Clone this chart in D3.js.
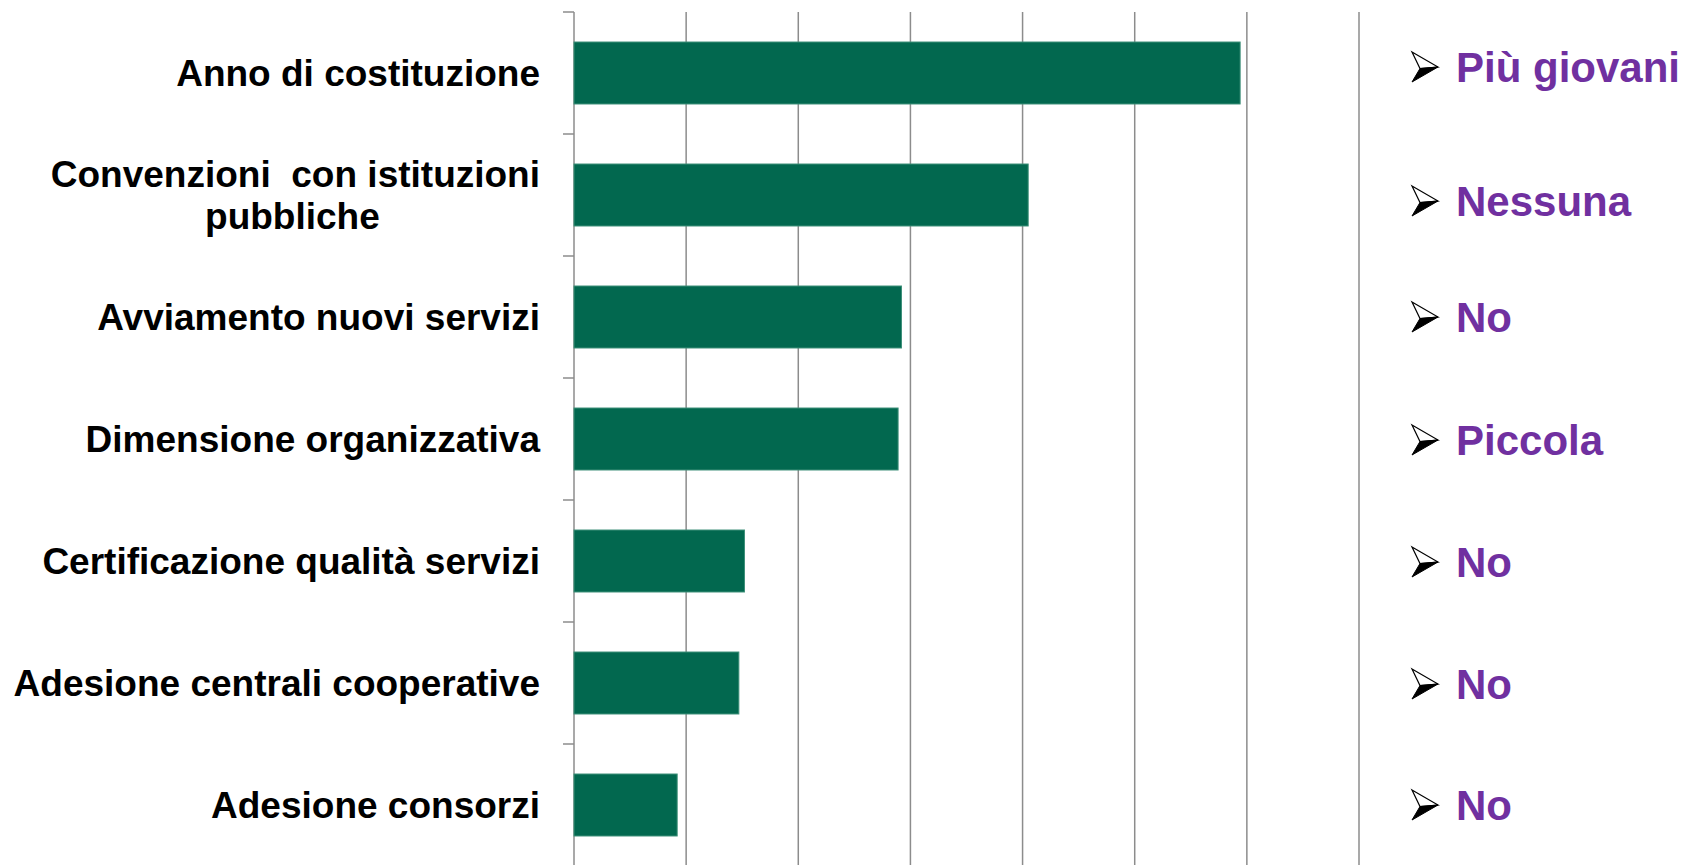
<!DOCTYPE html>
<html lang="it">
<head>
  <meta charset="UTF-8">
  <title>Fattori</title>
  <style>
    body { margin: 0; background: #fff; }
    .label { font-family: "Liberation Sans", Arial, sans-serif; font-weight: bold; font-size: 37px; fill: #000; white-space: pre; }
    .note { font-family: "Liberation Sans", Arial, sans-serif; font-weight: bold; font-size: 42px; fill: #7030A0; }
    .grid line { stroke: #8c8c8c; stroke-width: 1.5; }
    .bar { fill: #02684f; stroke: #3d8f78; stroke-width: 1; }
  </style>
</head>
<body>
<svg class="chart"></svg>

<script src="https://d3js.org/d3.v7.min.js"></script>
<script>
  // Data
  const categories = [
    'Anno di costituzione',
    'Convenzioni  con istituzioni\npubbliche',
    'Avviamento nuovi servizi',
    'Dimensione organizzativa',
    'Certificazione qualità servizi',
    'Adesione centrali cooperative',
    'Adesione consorzi'
  ];
  const values = [5.94, 4.05, 2.92, 2.89, 1.52, 1.47, 0.92];
  const notes = ['Più giovani', 'Nessuna', 'No', 'Piccola', 'No', 'No', 'No'];
  const xTicks = [0, 1, 2, 3, 4, 5, 6, 7];

  const width = 1683;
  const height = 865;

  const svg = d3.select('.chart')
    .attr('width', width)
    .attr('height', height);

  const x = d3.scaleLinear()
    .domain([0, 7])
    .range([574, 1359]);

  const y = d3.scaleBand()
    .domain(categories)
    .range([12, 866])
    .paddingInner(0.492)
    .paddingOuter(0.246);

  // vertical gridlines
  svg.append('g')
    .attr('class', 'grid')
    .selectAll('line')
    .data(xTicks.slice(1))
    .enter().append('line')
    .attr('x1', d => x(d))
    .attr('x2', d => x(d))
    .attr('y1', 12)
    .attr('y2', height);

  // category axis (left)
  const bounds = d3.range(categories.length).map(i => 12 + i * y.step());
  const axis = svg.append('g').attr('class', 'grid');
  axis.append('line')
    .attr('x1', x(0)).attr('x2', x(0))
    .attr('y1', 12).attr('y2', height);
  axis.selectAll('.tick')
    .data(bounds)
    .enter().append('line')
    .attr('class', 'tick')
    .attr('x1', x(0) - 11).attr('x2', x(0))
    .attr('y1', d => d).attr('y2', d => d);

  // bars
  svg.selectAll('.bar')
    .data(values)
    .enter().append('rect')
    .attr('class', 'bar')
    .attr('x', x(0))
    .attr('y', (d, i) => y(categories[i]))
    .attr('width', d => x(d) - x(0))
    .attr('height', y.bandwidth());

  // category labels (multi-line ones are centred on their first line)
  categories.forEach(c => {
    const cy = y(c) + y.bandwidth() / 2;
    const lines = c.split('\n');
    if (lines.length === 1) {
      svg.append('text')
        .attr('class', 'label')
        .attr('x', 540)
        .attr('y', cy)
        .attr('dy', '0.36em')
        .attr('text-anchor', 'end')
        .text(c);
    } else {
      const first = svg.append('text')
        .attr('class', 'label')
        .attr('x', 540)
        .attr('y', cy - 21)
        .attr('dy', '0.36em')
        .attr('text-anchor', 'end')
        .text(lines[0]);
      const w = first.node().getComputedTextLength();
      svg.append('text')
        .attr('class', 'label')
        .attr('x', 540 - w / 2 - 3)
        .attr('y', cy + 21)
        .attr('dy', '0.36em')
        .attr('text-anchor', 'middle')
        .text(lines[1]);
    }
  });

  // notes with arrowhead bullets (text box lines sit slightly off the bands)
  const nudge = [-6, 6, 0, 1, 1, 1, 0];
  const note = svg.selectAll('.noteg')
    .data(notes)
    .enter().append('g')
    .attr('class', 'noteg')
    .attr('transform', (d, i) => `translate(1412,${y(categories[i]) + y.bandwidth() / 2 + nudge[i]})`);

  note.append('path')
    .attr('d', 'M0,-15 L26,0 L8,1.5 Z')
    .attr('fill', '#fff')
    .attr('stroke', '#000')
    .attr('stroke-width', 1.2);

  note.append('path')
    .attr('d', 'M8,1.5 L26,0 L0,15 Z')
    .attr('fill', '#000')
    .attr('stroke', '#000')
    .attr('stroke-width', 1);

  note.append('text')
    .attr('class', 'note')
    .attr('x', 44)
    .attr('dy', '0.36em')
    .text(d => d);
</script>
</body>
</html>
